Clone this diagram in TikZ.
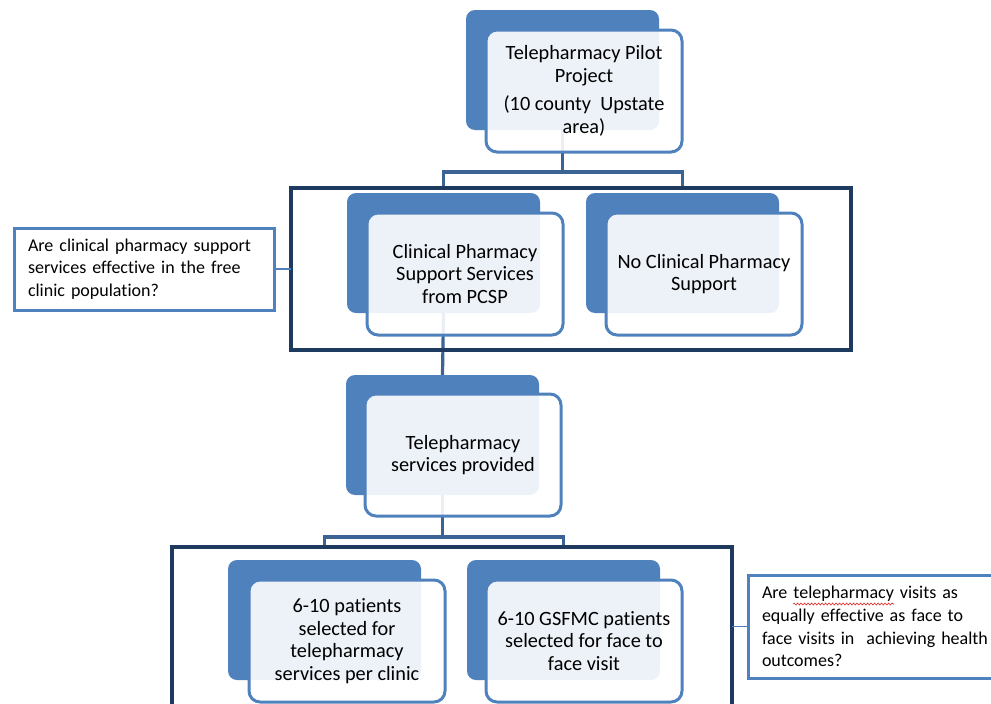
\documentclass[tikz,border=0pt]{standalone}
\usepackage{fontspec}
\setmainfont{Carlito}[Ligatures=NoCommon]
\usepackage{tikz}
\usetikzlibrary{positioning,calc,backgrounds,decorations.pathmorphing}
\definecolor{boxblue}{HTML}{4F81BD}
\definecolor{linkblue}{HTML}{3B6494}
\definecolor{framenavy}{HTML}{1F3A5F}
\definecolor{spellred}{HTML}{E02020}

\begin{document}
\begin{tikzpicture}[x=1pt, y=-1pt,
    every node/.style={font=\fontsize{20.3}{22.5}\selectfont, align=center, outer sep=0pt},
    boxbg/.style={fill=boxblue, rounded corners=9pt, minimum width=193pt, minimum height=120pt,
                  inner sep=0pt, anchor=north west},                        % bloc fonce
    box/.style={draw=boxblue, line width=3pt, fill=white, fill opacity=0.9, text opacity=1,
                rounded corners=11pt, minimum width=196pt, minimum height=122pt, inner sep=0pt},
    frame/.style={draw=framenavy, line width=3.2pt, inner sep=0pt, anchor=north west},
    link/.style={draw=linkblue, line width=3.2pt},
    ask/.style={draw=boxblue, line width=3pt, fill=white, font=\fontsize{18}{22.8}\selectfont,
                align=left, inner xsep=14pt, anchor=north west},
    asklink/.style={draw=boxblue, line width=1.6pt},
    spell/.style={draw=spellred, line width=0.6pt, decorate,
                  decoration={snake, amplitude=1pt, segment length=3.5pt}}
  ]
  \useasboundingbox (0,0) rectangle (991,704);
  \clip (0,0) rectangle (991,704);

  % ============ les cadres ================================================
  \node[frame, minimum width=560pt, minimum height=162pt] (midframe) at (291,188) {};
  \node[frame, minimum width=560pt, minimum height=200pt] (lowframe) at (172,547) {};

  % ============ blocs fonces (arriere) ===================================
  \node[boxbg] (pilotbg) at (466,10) {};
  \node[boxbg] (clinbg)  at (347,193) {};
  \node[boxbg] (nonebg)  at (586,193) {};
  \node[boxbg] (telebg)  at (346,375) {};
  \node[boxbg] (selbg)   at (228,560) {};
  \node[boxbg] (ftfbg)   at (467,560) {};

  % ============ blocs clairs (avant) =====================================
  \node[box, below right=20pt and 20pt of pilotbg.north west] (pilot)
    {Telepharmacy Pilot\\ Project\\[6pt] (10 county~ Upstate\\ area)};
  \node[box, below right=20pt and 20pt of clinbg.north west] (clin)
    {Clinical Pharmacy\\ Support Services\\ from PCSP};
  \node[box, below right=20pt and 20pt of nonebg.north west] (none)
    {No Clinical Pharmacy\\ Support};
  \node[box, below right=19pt and 19pt of telebg.north west] (tele)
    {Telepharmacy\\ services provided};
  \node[box, below right=20pt and 21pt of selbg.north west] (sel)
    {6-10 patients\\ selected for\\ telepharmacy\\ services per clinic};
  \node[box, below right=20pt and 19pt of ftfbg.north west] (ftf)
    {6-10 GSFMC patients\\ selected for face to\\ face visit};

  % ============ liaisons ==================================================
  \begin{scope}[on background layer]
    \coordinate (topfork) at ($(pilotbg.south)+(0,42)$);
    \draw[link] (pilotbg.south) -- (topfork);
    \draw[link] (clinbg.north |- midframe.north) |- (topfork) -| (nonebg.north |- midframe.north);
    \draw[link] (clinbg.south) -- (telebg.north);
    \coordinate (lowfork) at ($(telebg.south)+(0,42)$);
    \draw[link] (telebg.south) -- (lowfork);
    \draw[link] (selbg.north |- lowframe.north) |- (lowfork) -| (ftfbg.north |- lowframe.north);
  \end{scope}

  % ============ les questions ============================================
  \node[ask, text width=232pt, minimum height=82pt] (askleft) at (14,228)
    {Are clinical pharmacy support\\ services effective in the free\\ clinic population?};
  \node[ask, text width=246pt, minimum height=103pt] (askright) at (748,575)
    {Are telepharmacy visits as\\ equally effective as face to\\ face visits in~ achieving health\\ outcomes?};
  \draw[asklink] (askleft.east) -- (askleft.east -| midframe.west);
  \draw[asklink] (askright.west) -- (askright.west -| lowframe.east);
  \draw[spell] ($(askright.north west)+(45,29)$) -- ($(askright.north west)+(146,29)$);

\end{tikzpicture}
\end{document}
